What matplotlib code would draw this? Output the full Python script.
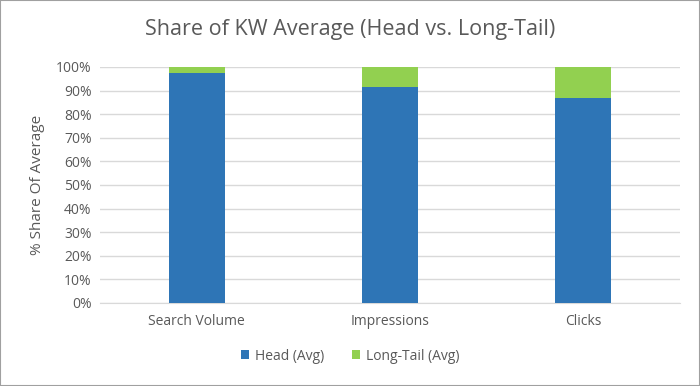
import matplotlib
matplotlib.use("Agg")
import matplotlib.pyplot as plt
from matplotlib.patches import Rectangle
from matplotlib.ticker import PercentFormatter

categories = ["Search Volume", "Impressions", "Clicks"]
head = [97.6, 91.4, 86.7]
long_tail = [2.4, 8.6, 13.3]

plt.rcParams['font.family'] = ['Open Sans', 'DejaVu Sans']
txt = '#595959'

fig = plt.figure(figsize=(7, 3.86), dpi=100)
ax = fig.add_axes([100/700, 1-303/386, 580/700, 236/386])

x = range(len(categories))
w = 0.29
ax.bar(x, head, width=w, color='#2E75B6', label='Head (Avg)', zorder=3)
ax.bar(x, long_tail, width=w, bottom=head, color='#92D050', label='Long-Tail (Avg)', zorder=3)

ax.set_xlim(-0.5, 2.5)
ax.set_ylim(0, 100)
ax.set_yticks(range(0, 101, 10))
ax.yaxis.set_major_formatter(PercentFormatter(decimals=0))
ax.set_xticks(list(x))
ax.set_xticklabels(categories)
ax.grid(axis='y', color='#D9D9D9', linewidth=1, zorder=0)
for s in ['top', 'right', 'left']:
    ax.spines[s].set_visible(False)
ax.spines['bottom'].set_color('#D9D9D9')
ax.tick_params(axis='both', length=0, colors=txt, labelsize=10)
ax.tick_params(axis='x', pad=8)
ax.tick_params(axis='y', pad=6)
ax.set_ylabel('% Share Of Average', color=txt, fontsize=11, labelpad=8)

fig.text(0.5, 1-30/386, 'Share of KW Average (Head vs. Long-Tail)', ha='center', va='center',
         fontsize=15.5, color=txt)

fig.legend(loc='center', bbox_to_anchor=(0.5, 1-356/386), ncol=2, frameon=False,
           fontsize=10, labelcolor=txt, handlelength=0.6, handleheight=0.6,
           columnspacing=2.0, handletextpad=0.4)

fig.patches.append(Rectangle((0, 0), 1, 1, transform=fig.transFigure, fill=False,
                             edgecolor='#A0A0A0', linewidth=1.5))

fig.savefig('out.png', dpi=100)
